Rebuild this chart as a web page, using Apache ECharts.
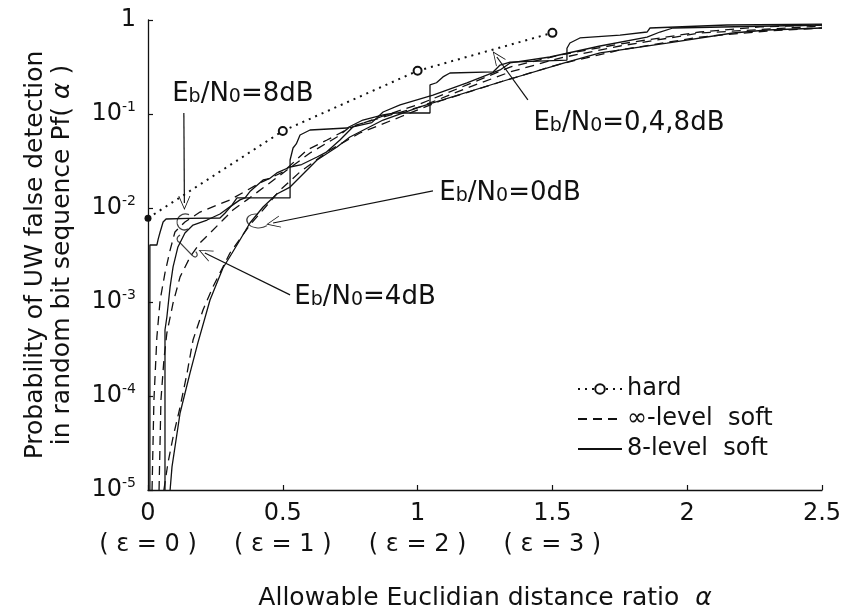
<!DOCTYPE html>
<html><head><meta charset="utf-8">
<script src="https://cdn.jsdelivr.net/npm/echarts@6/dist/echarts.min.js"></script>
<style>html,body{margin:0;padding:0;background:#fff}#c{width:845px;height:616px}</style>
</head><body><div id="c"></div><script>
// ---- data (alpha, Pf(alpha)) ----
const epsLabels = ['( ε = 0 )', '( ε = 1 )', '( ε = 2 )', '( ε = 3 )'];
const legendNames = ['hard', '∞-level  soft', '8-level  soft'];

const hard = [[0, 0.0078], [0.5, 0.066], [1.0, 0.288], [1.5, 0.73]];

const soft8_8dB = [[0.007,1e-5],[0.007,0.00404],[0.033,0.00404],[0.038,0.0047],[0.045,0.00556],[0.05,0.0062],[0.056,0.0071],[0.067,0.00764],[0.15,0.00775],[0.267,0.00783],[0.286,0.00885],[0.312,0.0108],[0.33,0.0128],[0.527,0.0128],[0.527,0.0324],[0.538,0.0435],[0.55,0.048],[0.564,0.0598],[0.601,0.0676],[0.738,0.071],[0.797,0.0863],[0.872,0.0976],[0.916,0.1025],[1.046,0.1025],[1.046,0.204],[1.07,0.215],[1.094,0.248],[1.12,0.273],[1.28,0.28],[1.306,0.332],[1.343,0.357],[1.554,0.375],[1.554,0.5],[1.565,0.569],[1.602,0.644],[1.751,0.692],[1.851,0.745],[1.862,0.822],[2.148,0.885],[2.5,0.906]];

const softInf_8dB = [[0.015,1e-5],[0.022,9.06e-5],[0.033,0.000425],[0.045,0.00105],[0.063,0.00204],[0.082,0.00357],[0.1,0.00556],[0.137,0.0071],[0.193,0.00906],[0.304,0.0122],[0.415,0.01845],[0.501,0.0242],[0.59,0.0414],[0.664,0.0529],[0.749,0.071],[0.872,0.0952],[1.009,0.128],[1.183,0.204],[1.343,0.316],[1.528,0.424],[1.751,0.556],[2.047,0.745],[2.27,0.843],[2.5,0.885]];

const soft8_4dB = [[0.063,1e-5],[0.063,0.000504],[0.07,0.000692],[0.082,0.00145],[0.093,0.00236],[0.111,0.00385],[0.137,0.00542],[0.167,0.00659],[0.219,0.00745],[0.267,0.00863],[0.3,0.0101],[0.341,0.0122],[0.36,0.0128],[0.38,0.0152],[0.427,0.0199],[0.45,0.0205],[0.478,0.0236],[0.527,0.0273],[0.57,0.029],[0.627,0.0349],[0.66,0.039],[0.712,0.0529],[0.76,0.0728],[0.83,0.081],[0.872,0.105],[0.935,0.125],[1.057,0.159],[1.183,0.214],[1.306,0.294],[1.343,0.349],[1.491,0.404],[1.677,0.529],[1.851,0.659],[1.899,0.745],[1.947,0.822],[2.5,0.885]];

const softInf_4dB = [[0.041,1e-5],[0.048,9.06e-5],[0.059,0.000242],[0.07,0.000468],[0.093,0.000976],[0.119,0.00185],[0.156,0.00301],[0.193,0.00425],[0.23,0.00542],[0.278,0.00745],[0.315,0.00952],[0.367,0.0122],[0.501,0.0236],[0.601,0.0385],[0.701,0.0569],[0.749,0.0728],[0.872,0.0929],[1.009,0.119],[1.183,0.189],[1.343,0.28],[1.528,0.394],[1.751,0.529],[2.047,0.727],[2.5,0.863]];

const softInf_0dB = [[0.059,1e-5],[0.074,1.94e-5],[0.093,3.66e-5],[0.119,7.64e-5],[0.145,0.000176],[0.167,0.000394],[0.204,0.000822],[0.241,0.00145],[0.278,0.00236],[0.304,0.00332],[0.378,0.00659],[0.49,0.0155],[0.564,0.0242],[0.675,0.0414],[0.786,0.0628],[0.935,0.0929],[1.083,0.1375],[1.306,0.219],[1.528,0.34],[1.751,0.48],[2.047,0.659],[2.296,0.764],[2.5,0.822]];

const soft8_0dB = [[0.082,1e-5],[0.089,1.76e-5],[0.119,6.59e-5],[0.156,0.000176],[0.185,0.000367],[0.23,0.00105],[0.278,0.0023],[0.312,0.00332],[0.341,0.00457],[0.378,0.00692],[0.427,0.01025],[0.478,0.0141],[0.527,0.0167],[0.627,0.0324],[0.701,0.0446],[0.749,0.0569],[0.872,0.0863],[1.009,0.119],[1.306,0.219],[1.554,0.357],[1.677,0.446],[1.925,0.569],[2.17,0.727],[2.296,0.783],[2.5,0.822]];

// ---- annotations (data coordinates) ----
const annotTexts = [
  {pos: [0.352, 0.163], txt: '8dB'},
  {pos: [1.343, 0.01445], txt: '0dB'},
  {pos: [0.805, 0.00113], txt: '4dB'},
  {pos: [1.784, 0.0802], txt: '0,4,8dB'}
];
const annotArrows = [
  [[0.133, 0.1025], [0.135, 0.0113]],
  [[1.057, 0.0152], [0.464, 0.00692]],
  [[0.527, 0.00119], [0.211, 0.00332]],
  [[1.409, 0.141], [1.294, 0.404]]
];
const curls = [
  {pos: [0.130, 0.0071], size: [12, 16], path: 'path://M12,1 C6,-1 1,3 2,8 C3,12 8,14 11,12'},
  {pos: [0.404, 0.00728], size: [20, 14], path: 'path://M10,1 C4,0 1,4 3,8 C5,12 12,13 16,10'},
  {pos: [0.145, 0.00394], size: [20, 22], path: 'path://M4,1 C0,3 1,6 4,7 L15,17 C18,20 21,17 18,14'}
];

const FF = 'DejaVu Sans';
const INK = '#111';
const chart = echarts.init(document.getElementById('c'));

const solid = {color: INK, width: 1.3, type: 'solid'};
const dashed = {color: INK, width: 1.3, type: [9, 6]};
function soft(name, data, ls) {
  return {type: 'line', name: name, data: data, symbol: 'none', showSymbol: false, lineStyle: ls, itemStyle: {color: INK}, silent: true, z: 2};
}

chart.setOption({
  animation: false,
  backgroundColor: '#fff',
  grid: {left: 148, right: 23, top: 20, bottom: 126},
  legend: {
    orient: 'vertical', left: 572, top: 372, itemGap: 6, itemWidth: 44, itemHeight: 12,
    data: [
      {name: legendNames[0]},
      {name: legendNames[1], itemStyle: {opacity: 0}},
      {name: legendNames[2], itemStyle: {opacity: 0}}
    ],
    textStyle: {fontSize: 24, fontFamily: FF, color: INK},
    selectedMode: false
  },
  xAxis: {
    type: 'value', min: 0, max: 2.5, interval: 0.5,
    axisLine: {lineStyle: {color: INK, width: 1.3}},
    axisTick: {inside: true, length: 5, lineStyle: {color: INK, width: 1.2}},
    splitLine: {show: false},
    axisLabel: {
      fontSize: 24, fontFamily: FF, color: INK, margin: 8, lineHeight: 31,
      formatter: function (v) {
        const i = Math.round(v * 2);
        return i < epsLabels.length ? v + '\n' + epsLabels[i] : String(v);
      }
    },
    name: 'Allowable Euclidian distance ratio  {a|α}',
    nameLocation: 'middle', nameGap: 96,
    nameTextStyle: {fontSize: 25, fontFamily: FF, color: INK,
      rich: {a: {fontSize: 25, fontFamily: FF, fontStyle: 'italic', color: INK}}}
  },
  yAxis: {
    type: 'log', logBase: 10, min: 1e-5, max: 1,
    axisLine: {show: true, lineStyle: {color: INK, width: 1.3}},
    axisTick: {show: true, inside: true, length: 5, lineStyle: {color: INK, width: 1.2}},
    splitLine: {show: false},
    axisLabel: {
      margin: 12, color: INK,
      formatter: function (v) {
        const e = Math.round(Math.log10(v));
        return e === 0 ? '{b|1}' : '{b|10}{s|' + e + '}';
      },
      rich: {
        b: {fontSize: 24, fontFamily: FF, color: INK, lineHeight: 28},
        s: {fontSize: 14, fontFamily: FF, color: INK, verticalAlign: 'top', lineHeight: 14}
      }
    },
    name: 'Probability of UW false detection\nin random bit sequence Pf( {a|α} )',
    nameLocation: 'middle', nameGap: 72,
    nameTextStyle: {fontSize: 25, fontFamily: FF, color: INK, lineHeight: 27,
      rich: {a: {fontSize: 25, fontFamily: FF, fontStyle: 'italic', color: INK}}}
  },
  series: [
    soft(legendNames[2], soft8_8dB, solid),
    soft(legendNames[1], softInf_8dB, dashed),
    soft(legendNames[2], soft8_4dB, solid),
    soft(legendNames[1], softInf_4dB, dashed),
    soft(legendNames[1], softInf_0dB, dashed),
    soft(legendNames[2], soft8_0dB, solid),
    {
      type: 'line', name: legendNames[0], z: 3,
      data: hard.map(function (p, i) {
        return i === 0 ? {value: p, symbol: 'circle', symbolSize: 7, itemStyle: {color: INK}} : {value: p};
      }),
      symbol: 'emptyCircle', symbolSize: 8,
      lineStyle: {color: INK, width: 2, type: [2, 5]},
      itemStyle: {color: INK, borderWidth: 1.2},
      markLine: {
        silent: true, animation: false,
        symbol: ['none', 'path://M0,0 L10,20 L8.6,20 L0,2.8 L-8.6,20 L-10,20 Z'],
        symbolSize: [12, 14],
        lineStyle: {color: INK, width: 1.2, type: 'solid'},
        label: {show: false},
        data: annotArrows.map(function (a) { return [{coord: a[0]}, {coord: a[1]}]; })
      }
    },
    {
      type: 'scatter', name: 'annotation', silent: true, z: 4,
      symbolSize: 1, itemStyle: {color: 'rgba(0,0,0,0)'},
      data: annotTexts.map(function (a) {
        return {value: a.pos, label: {show: true, position: 'inside', color: INK, textBorderWidth: 0,
          formatter: '{n|E}{s|b}{n|/N}{s|0}{n|=' + a.txt + '}'}};
      }),
      label: {
        color: INK, textBorderWidth: 0, opacity: 1,
        rich: {
          n: {fontSize: 26, fontFamily: FF, color: INK, lineHeight: 26, textBorderWidth: 0},
          s: {fontSize: 19, fontFamily: FF, color: INK, lineHeight: 19, verticalAlign: 'bottom', textBorderWidth: 0}
        }
      }
    },
    {
      type: 'scatter', name: 'curl', silent: true, z: 4,
      data: curls.map(function (c) {
        return {value: c.pos, symbol: c.path, symbolSize: c.size};
      }),
      itemStyle: {color: 'none', borderColor: INK, borderWidth: 1.2}
    }
  ]
});
</script></body></html>
